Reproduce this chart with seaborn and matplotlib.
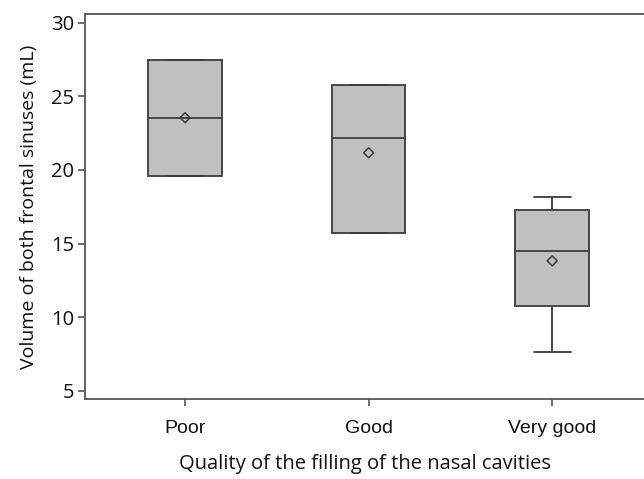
import matplotlib
matplotlib.use("Agg")
import matplotlib.pyplot as plt
import seaborn as sns
import pandas as pd

categories = ["Poor", "Good", "Very good"]
whisker_low = [19.6, 15.73, 7.65]
q1 = [19.6, 15.73, 10.78]
median = [23.55, 22.19, 14.51]
q3 = [27.49, 25.8, 17.3]
whisker_high = [27.49, 25.8, 18.18]
means = [23.55, 21.17, 13.83]
y_ticks = [5, 10, 15, 20, 25, 30]

rows = []
for i, c in enumerate(categories):
    for v in (whisker_low[i], q1[i], median[i], q3[i], whisker_high[i]):
        rows.append({"cat": c, "val": v})
df = pd.DataFrame(rows)

sns.set_style("white")
fig = plt.figure(figsize=(6.44, 4.79), dpi=100)
ax = fig.add_axes([0.132, 0.167, 0.868, 0.804])

edge = "#3c3c3c"
sns.boxplot(data=df, x="cat", y="val", order=categories, width=0.4,
            color="#c0c0c0", linecolor=edge, linewidth=1.3, whis=1.5,
            saturation=1, showfliers=False, ax=ax)
mdf = pd.DataFrame({"cat": categories, "val": means})
sns.scatterplot(data=mdf, x="cat", y="val", marker="D", s=26,
                facecolor="none", edgecolor=edge, linewidth=1.1, ax=ax, zorder=5)

ax.set_ylim(4.45, 30.6)
ax.set_xlim(-0.545, 2.5)
ax.set_yticks(y_ticks, [str(t) for t in y_ticks], fontfamily="Open Sans", fontsize=14.5)
ax.set_xticks(range(len(categories)), categories, fontfamily="Liberation Sans", fontsize=14)
for s in ["left", "top", "bottom"]:
    ax.spines[s].set_visible(True)
    ax.spines[s].set_color("#555555")
    ax.spines[s].set_linewidth(1.3)
ax.spines["right"].set_visible(False)
ax.tick_params(axis="both", direction="out", length=5, width=1.2, color="#555555",
               left=True, bottom=True, labelcolor="#111111")
ax.tick_params(axis="y", pad=3)
ax.tick_params(axis="x", pad=10)
ax.set_ylabel("Volume of both frontal sinuses (mL)", fontsize=14, family="Open Sans",
              labelpad=9, color="#111111")
ax.set_xlabel("Quality of the filling of the nasal cavities", fontsize=14.5, family="Open Sans",
              labelpad=12, color="#111111")

fig.savefig("out.png", dpi=100)
